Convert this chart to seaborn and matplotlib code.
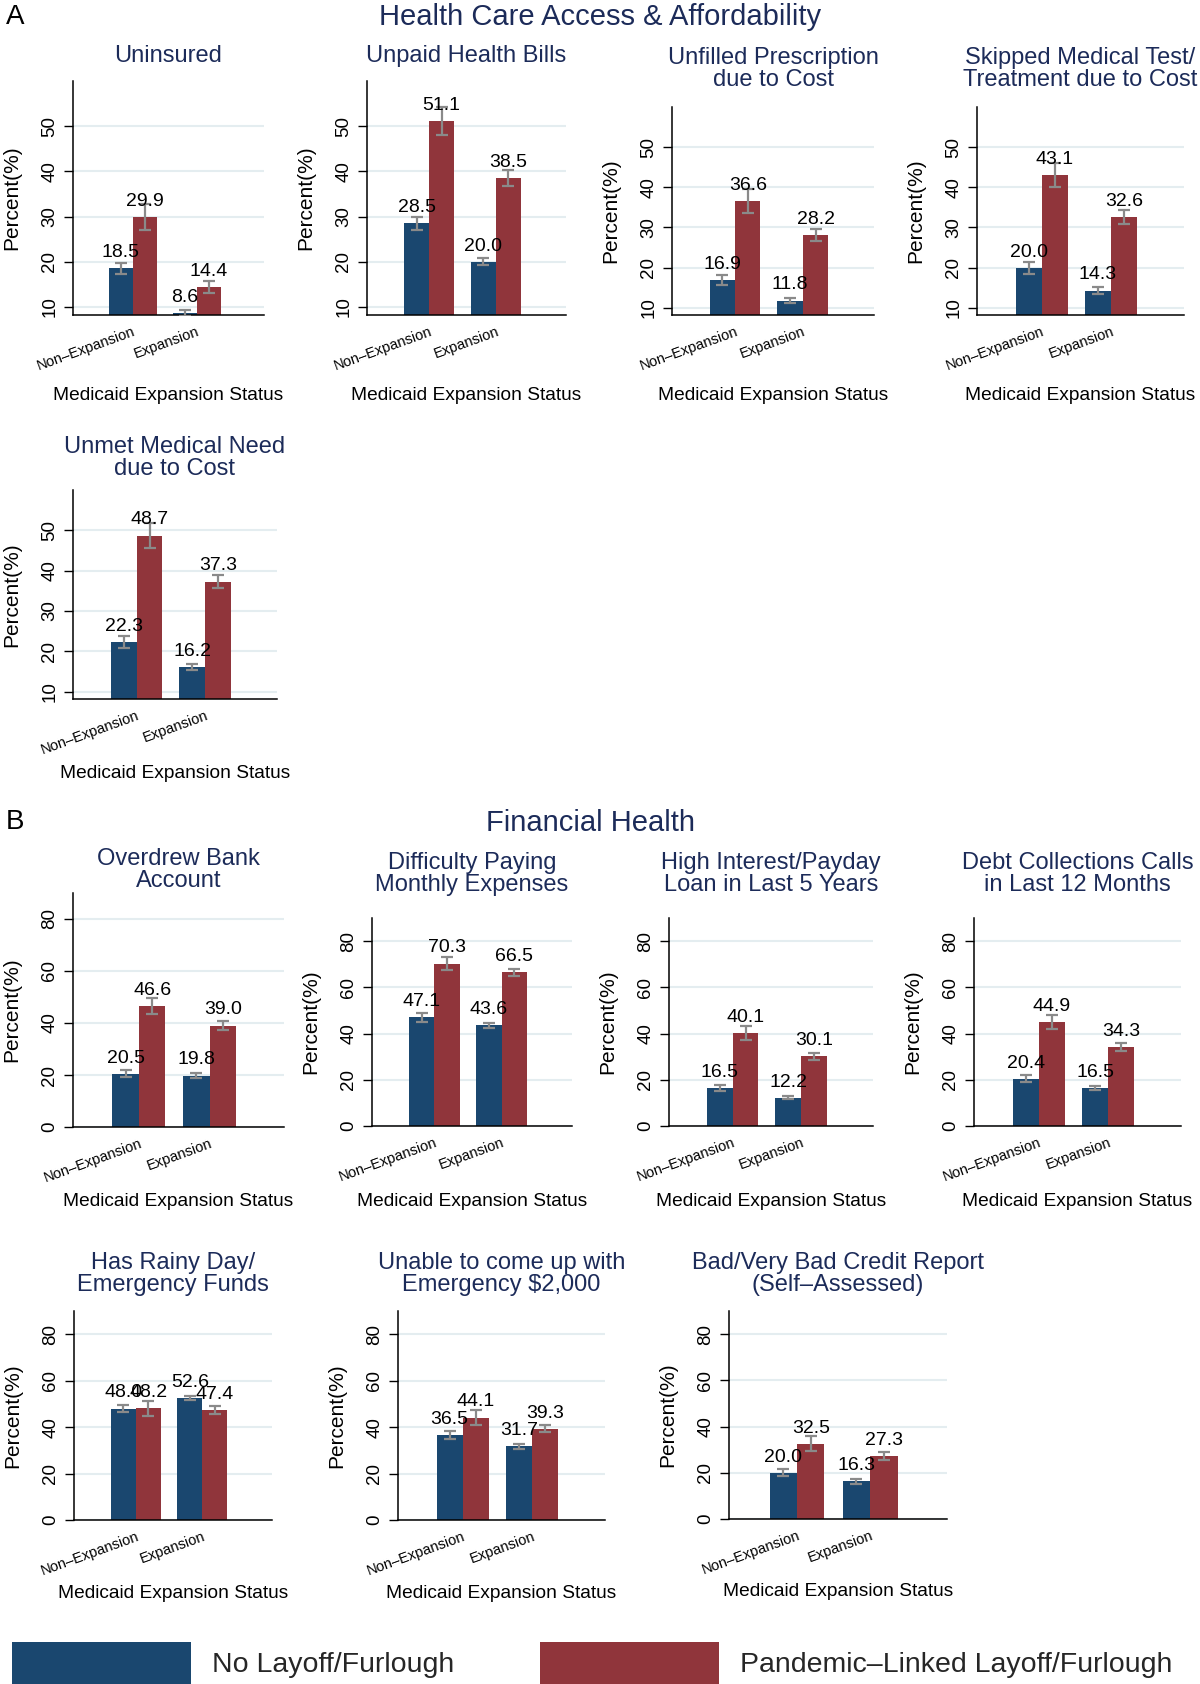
import matplotlib
matplotlib.use('Agg')
import matplotlib.pyplot as plt
import matplotlib.patches as mpatches
from matplotlib.transforms import offset_copy
import pandas as pd
import seaborn as sns

# ---- data (percent, with half-width of the 95% CI) ----
status = ['Non–Expansion', 'Expansion']
groups = ['No Layoff/Furlough', 'Pandemic–Linked Layoff/Furlough']

titles = ['Uninsured', 'Unpaid Health Bills', 'Unfilled Prescription\ndue to Cost',
          'Skipped Medical Test/\nTreatment due to Cost', 'Unmet Medical Need\ndue to Cost',
          'Overdrew Bank\nAccount', 'Difficulty Paying\nMonthly Expenses',
          'High Interest/Payday\nLoan in Last 5 Years', 'Debt Collections Calls\nin Last 12 Months',
          'Has Rainy Day/\nEmergency Funds', 'Unable to come up with\nEmergency $2,000',
          'Bad/Very Bad Credit Report\n(Self–Assessed)']

no_layoff = [[18.5, 8.6], [28.5, 20.0], [16.9, 11.8], [20.0, 14.3], [22.3, 16.2],
             [20.5, 19.8], [47.1, 43.6], [16.5, 12.2], [20.4, 16.5],
             [48.0, 52.6], [36.5, 31.7], [20.0, 16.3]]
layoff = [[29.9, 14.4], [51.1, 38.5], [36.6, 28.2], [43.1, 32.6], [48.7, 37.3],
          [46.6, 39.0], [70.3, 66.5], [40.1, 30.1], [44.9, 34.3],
          [48.2, 47.4], [44.1, 39.3], [32.5, 27.3]]
no_layoff_ci = [[1.3, 0.7], [1.5, 0.8], [1.3, 0.7], [1.5, 0.75], [1.5, 0.75],
                [1.45, 0.9], [1.9, 1.1], [1.45, 0.7], [1.55, 0.85],
                [1.6, 1.0], [1.8, 1.0], [1.6, 0.95]]
layoff_ci = [[2.8, 1.3], [3.1, 1.7], [2.9, 1.5], [3.0, 1.7], [3.1, 1.7],
             [3.2, 1.75], [2.9, 1.6], [3.1, 1.6], [3.1, 1.8],
             [3.2, 1.8], [3.2, 1.5], [3.2, 1.7]]

# ---- layout (pixels): left, right, top, bottom of each plot region ----
W, H = 1200, 1684
boxes = [(73, 264, 81, 315), (367, 566, 81, 315), (672, 874, 107, 315), (977, 1184, 107, 315),
         (73, 277, 490, 699),
         (73, 284, 893, 1127), (372, 572, 918, 1126), (669, 873, 918, 1126), (974, 1181, 918, 1126),
         (74, 272, 1311, 1520), (398, 605, 1311, 1520), (729, 947, 1311, 1519)]
title_gap = [19, 19, 21, 21, 15, 6, 27, 27, 27, 20, 20, 20]
xlabel_drop = [80, 80, 80, 80, 74, 75, 75, 75, 75, 73, 73, 73]

navy = '#1c2b59'
colors = ['#1a476f', '#90353b']

sns.set_theme(style='white')
plt.rcParams['font.family'] = ['Liberation Sans', 'DejaVu Sans']

fig = plt.figure(figsize=(W / 100, H / 100), dpi=100)

for i, title in enumerate(titles):
    l, r, t, b = boxes[i]
    ax = fig.add_axes([l / W, 1 - b / H, (r - l) / W, (b - t) / H])
    df = pd.DataFrame({
        'status': status * 2,
        'group': [groups[0]] * 2 + [groups[1]] * 2,
        'pct': no_layoff[i] + layoff[i],
        'ci': no_layoff_ci[i] + layoff_ci[i],
    })
    sns.barplot(data=df, x='status', y='pct', hue='group', order=status, hue_order=groups,
                palette=colors, width=0.75, saturation=1, errorbar=None, legend=False,
                linewidth=0, ax=ax)

    # error bars and value labels at the bar centres
    for h, cont in enumerate(ax.containers[:2]):
        sub = df[df['group'] == groups[h]]
        xs = [bar.get_x() + bar.get_width() / 2 for bar in cont]
        ax.errorbar(xs, sub['pct'], yerr=sub['ci'], fmt='none', ecolor='#8a8a8a',
                    elinewidth=1.6, capsize=4.5, capthick=1.6, zorder=4)
        for x, v in zip(xs, sub['pct']):
            ax.annotate('{:.1f}'.format(v), (x, v), xytext=(0, 8), textcoords='offset points',
                        ha='center', va='baseline', fontsize=14, color='black', zorder=5)

    if i < 5:
        ax.set_ylim(8.2, 60)
        ticks = [10, 20, 30, 40, 50]
    else:
        ax.set_ylim(0, 90)
        ticks = [0, 20, 40, 60, 80]
    ax.set_xlim(-0.93, 2.05)
    ax.set_yticks(ticks, labels=[str(v) for v in ticks], rotation=90, va='center')
    ax.yaxis.grid(True, color='#e4edf0', linewidth=1.5)
    ax.set_axisbelow(True)
    ax.tick_params(axis='y', left=True, length=6.5, width=1, color='black', pad=4,
                   labelsize=13.5, labelcolor='black')
    ax.tick_params(axis='x', length=0, pad=7, labelsize=10.5, labelcolor='black')
    for lab in ax.get_xticklabels():
        lab.set_rotation(20)
        lab.set_ha('right')
        lab.set_rotation_mode('anchor')

    sns.despine(ax=ax)
    for side in ['left', 'bottom']:
        ax.spines[side].set_color('black')
        ax.spines[side].set_linewidth(1.1)

    ax.set_xlabel('Medicaid Expansion Status', fontsize=13.8, color='black')
    ax.xaxis.set_label_coords(0.5, 0, transform=offset_copy(ax.transAxes, fig=fig,
                                                            y=-xlabel_drop[i], units='dots'))
    ax.xaxis.label.set_va('center')
    ax.set_ylabel('Percent(%)', fontsize=15, color='black')
    ax.yaxis.set_label_coords(0, 0.5, transform=offset_copy(ax.transAxes, fig=fig, x=-52, units='dots'))

    ax.set_title(title, fontsize=17, color=navy, pad=title_gap[i] * 0.72, linespacing=1.0)

# section headings
fig.text(6 / W, 1 - 17 / H, 'A', fontsize=20, va='center', ha='left', color='black')
fig.text(600 / W, 1 - 17 / H, 'Health Care Access & Affordability', fontsize=21,
         va='center', ha='center', color=navy)
fig.text(6 / W, 1 - 822 / H, 'B', fontsize=20, va='center', ha='left', color='black')
fig.text(590 / W, 1 - 823 / H, 'Financial Health', fontsize=21, va='center', ha='center', color=navy)

handles = [mpatches.Patch(facecolor=c, edgecolor='none') for c in colors]
fig.legend(handles, groups, loc='lower left', bbox_to_anchor=(11.5 / W, 0), ncol=2,
           frameon=False, fontsize=20.5, borderpad=0, borderaxespad=0,
           handlelength=6.3, handleheight=1.9, handletextpad=0.74, columnspacing=3.0)

fig.savefig('out.png', dpi=100)
